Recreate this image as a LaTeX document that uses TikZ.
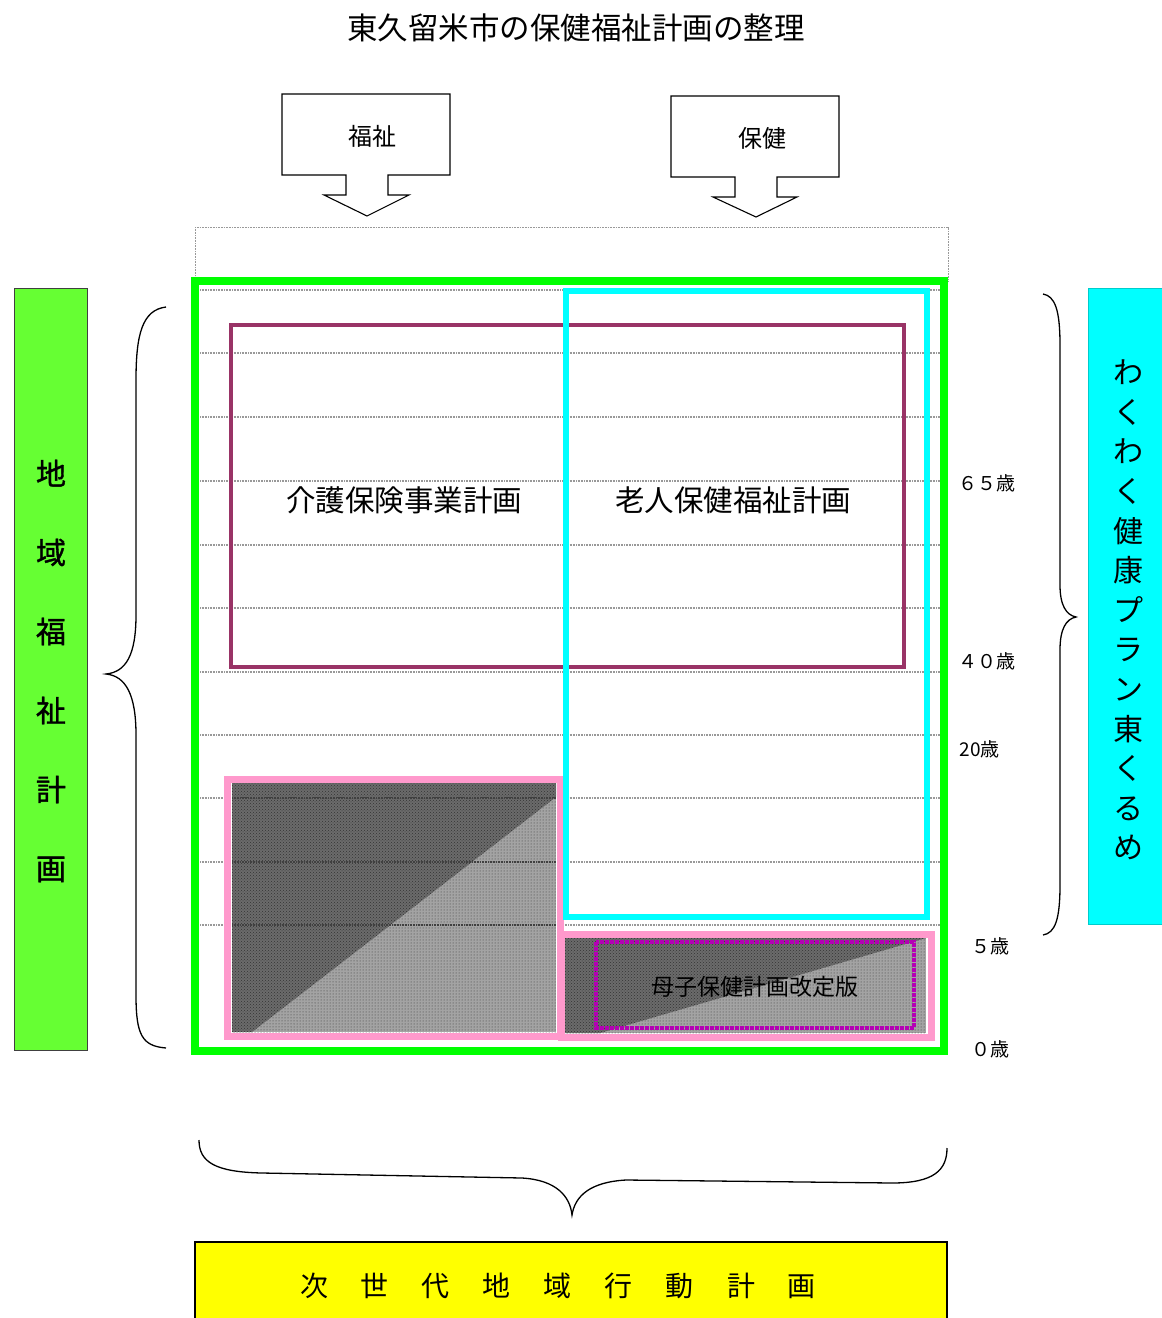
\documentclass[tikz,border=0pt]{standalone}
\usepackage{fontspec}
\setmainfont{Noto Sans CJK JP}
\newfontfamily\fakeboldcjk[FakeBold=1.2]{Noto Sans CJK JP}
\usetikzlibrary{patterns}
\definecolor{grn}{HTML}{00FF00}
\definecolor{lgrn}{HTML}{66FF33}
\definecolor{cyn}{HTML}{00FFFF}
\definecolor{mrn}{HTML}{993366}
\definecolor{pnk}{HTML}{FF99CC}
\definecolor{ylw}{HTML}{FFFF00}
\definecolor{mgt}{HTML}{B400B4}
\tikzset{
  gridline/.style={draw=gray!80, line width=1.4pt, dash pattern=on 1pt off 0.6pt},
  brace/.style={draw=black, line width=1.3pt},
  blockarrow/.style={draw=black, line width=1.1pt, fill=white},
  agelabel/.style={anchor=west, font=\fontsize{19}{22}\selectfont},
  darkfill/.style={fill=black!58},
  lightfill/.style={fill=black!36},
}
\begin{document}
\begin{tikzpicture}[x=1pt,y=-1pt]
\useasboundingbox (0,0) rectangle (1162,1318);
\fill[white] (0,0) rectangle (1162,1318);

% title
\node[font=\fontsize{30.5}{35}\selectfont] (title) at (576,28) {東久留米市の保健福祉計画の整理};

% block arrows
\draw[blockarrow] (282,94) -- (450,94) -- (450,175) -- (388,175) -- (388,195) -- (409,195) -- (367,216) -- (324,195) -- (346,195) -- (346,175) -- (282,175) -- cycle;
\node[font=\fontsize{24}{28}\selectfont] (fukushi) at (372,136) {福祉};
\draw[blockarrow] (671,96) -- (839,96) -- (839,177) -- (777,177) -- (777,197) -- (797,197) -- (756,217) -- (713,197) -- (735,197) -- (735,177) -- (671,177) -- cycle;
\node[font=\fontsize{24}{28}\selectfont] (hoken) at (762,138) {保健};

% dotted top rectangle
\draw[gridline, line width=1pt] (195,227) rectangle (948,281);

% grid lines
\foreach \yy in {290,353,417,481,545,608,672,735,798,862,925}
  \draw[gridline] (200,\yy) -- (940,\yy);

% left hatched block
\fill[lightfill] (232,783) rectangle (556,1032);
\fill[pattern=dots, pattern color=black!80] (232,783) rectangle (556,1032);
\fill[darkfill] (232,783) -- (556,783) -- (556,797) -- (252,1032) -- (232,1032) -- cycle;
\fill[pattern=crosshatch dots, pattern color=black!80] (232,783) -- (556,783) -- (556,797) -- (252,1032) -- (232,1032) -- cycle;
\draw[gridline, draw=black!75] (232,798) -- (556,798);
\draw[gridline, draw=black!75] (232,862) -- (556,862);
\draw[gridline, draw=black!75] (232,925) -- (556,925);
\draw[pnk, line width=7pt] (227,779) rectangle (560,1036);

% right hatched block
\fill[lightfill] (565,938) rectangle (926,1033);
\fill[pattern=dots, pattern color=black!80] (565,938) rectangle (926,1033);
\fill[darkfill] (565,938) -- (926,938) -- (600,1033) -- (565,1033) -- cycle;
\fill[pattern=crosshatch dots, pattern color=black!80] (565,938) -- (926,938) -- (600,1033) -- (565,1033) -- cycle;
\draw[pnk, line width=7pt] (561,934) rectangle (931,1037);
\draw[mgt, line width=3.5pt, dash pattern=on 4pt off 1pt] (596,942) rectangle (914,1028);
\node[font=\fontsize{23}{27}\selectfont] (boshi) at (755,987) {母子保健計画改定版};

% maroon rectangle
\draw[mrn, line width=4pt] (231,325) rectangle (904,667);
% cyan rectangle
\draw[cyn, line width=6pt] (566,291) rectangle (927,917);
\node[font=\fontsize{29.5}{34}\selectfont] (kaigo) at (404,500) {介護保険事業計画};
\node[font=\fontsize{29.5}{34}\selectfont] (roujin) at (733,500) {老人保健福祉計画};

% green rectangle
\draw[grn, line width=8pt] (195,281) rectangle (944,1051);

% age labels
\node[agelabel] (a65) at (955,483) {６５歳};
\node[agelabel] (a40) at (955,661) {４０歳};
\node[agelabel] (a20) at (956,749) {20歳};
\node[agelabel] (a5) at (968,946) {５歳};
\node[agelabel] (a0) at (968,1049) {０歳};

% left box
\draw[fill=lgrn, draw=black!75, line width=1pt] (14,288) rectangle (87,1050);
\node[font=\fakeboldcjk\fontsize{30}{79}\selectfont, align=center] (chiiki) at (51,671) {地\\域\\福\\祉\\計\\画};

% right box
\draw[fill=cyn, draw=cyn!80!black, line width=0.6pt] (1088,288) rectangle (1172,924);
\node[font=\fontsize{30}{39.6}\selectfont, align=center] (wakuwaku) at (1128,610) {わ\\く\\わ\\く\\健\\康\\プ\\ラ\\ン\\東\\く\\る\\め};

% braces
\draw[brace] (166,307) .. controls (142,310) and (136,335) .. (136,380) -- (136,615) .. controls (136,655) and (126,672) .. (106,674) .. controls (126,676) and (136,695) .. (136,735) -- (136,995) .. controls (136,1035) and (142,1046) .. (166,1048);
\draw[brace] (1043,294) .. controls (1055,296) and (1060,310) .. (1060,345) -- (1060,585) .. controls (1060,605) and (1066,615) .. (1076,617) .. controls (1066,619) and (1060,629) .. (1060,650) -- (1060,885) .. controls (1060,920) and (1055,933) .. (1043,935);
\draw[brace] (199,1140) .. controls (199,1162) and (215,1172) .. (262,1173) -- (522,1178) .. controls (556,1180) and (570,1196) .. (572,1215) .. controls (575,1196) and (590,1182) .. (626,1180) -- (892,1183) .. controls (934,1183) and (947,1170) .. (947,1148);

% yellow box
\draw[fill=ylw, draw=black, line width=1.5pt] (195,1242) rectangle (947,1340);
\node[font=\fontsize{28}{32}\selectfont] (jisedai) at (558,1286) {次\hspace{33pt}世\hspace{33pt}代\hspace{33pt}地\hspace{33pt}域\hspace{33pt}行\hspace{33pt}動\hspace{33pt}計\hspace{33pt}画};
\end{tikzpicture}
\end{document}
